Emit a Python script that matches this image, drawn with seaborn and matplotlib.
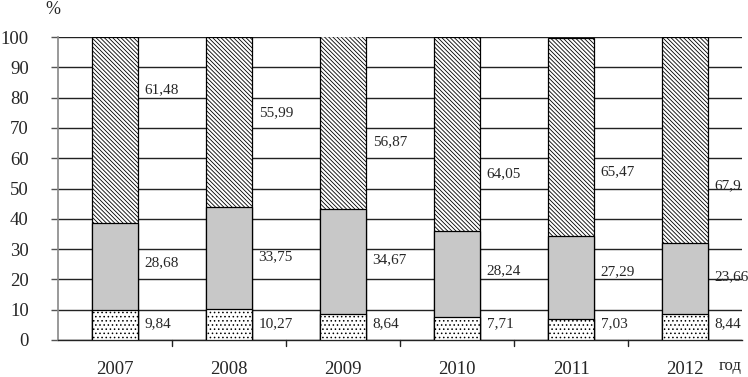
import matplotlib
matplotlib.use("Agg")
import matplotlib.pyplot as plt
import seaborn as sns
import pandas as pd
import numpy as np

years = ["2007", "2008", "2009", "2010", "2011", "2012"]
bottom_vals = [9.84, 10.27, 8.64, 7.71, 7.03, 8.44]
middle_vals = [28.68, 33.75, 34.67, 28.24, 27.29, 23.66]
top_vals = [61.48, 55.99, 56.87, 64.05, 65.47, 67.9]
bottom_labels = ["9,84", "10,27", "8,64", "7,71", "7,03", "8,44"]
middle_labels = ["28,68", "33,75", "34,67", "28,24", "27,29", "23,66"]
top_labels = ["61,48", "55,99", "56,87", "64,05", "65,47", "67,9"]
# vertical placement of value labels (in % units)
bottom_label_y = [5.5, 5.5, 5.5, 5.5, 5.5, 5.5]
middle_label_y = [25.5, 27.5, 26.5, 23.0, 22.5, 21.0]
top_label_y = [82.5, 75.0, 65.5, 55.0, 55.5, 51.0]
yticks = [0, 10, 20, 30, 40, 50, 60, 70, 80, 90, 100]

sns.set_theme(style="white")
plt.rcParams["font.family"] = ["Liberation Serif", "DejaVu Serif"]
plt.rcParams["hatch.linewidth"] = 0.6

df = pd.DataFrame({"year": years, "b": bottom_vals, "m": middle_vals, "t": top_vals})
df["bm"] = df["b"] + df["m"]
df["total"] = df["bm"] + df["t"]

fig = plt.figure(figsize=(7.48, 3.77), dpi=100)
ax = fig.add_axes([58 / 748, 37 / 377, 684 / 748, 303 / 377])

layers = [("total", "white", "\\\\\\\\\\\\\\\\"), ("bm", "#c8c8c8", None), ("b", "white", "....")]
for col, color, hatch in layers:
    sns.barplot(data=df, x="year", y=col, ax=ax, color=color, width=0.4,
                edgecolor="black", linewidth=0.9, saturation=1, zorder=3)
    for p in ax.patches[-len(years):]:
        p.set_facecolor(color)
        if hatch:
            p.set_hatch(hatch)

ax.set_xlim(-0.5, 5.5)
ax.set_ylim(0, 100)
ax.set_yticks(yticks)
ax.set_yticklabels([str(v) for v in yticks], fontsize=13.5)
ax.yaxis.grid(True, color="#222222", linewidth=1.0, zorder=0)
ax.set_axisbelow(True)
ax.set_xlabel("")
ax.set_ylabel("")

for s in ["top", "right"]:
    ax.spines[s].set_visible(False)
ax.spines["left"].set_color("#888888")
ax.spines["left"].set_linewidth(1.2)
ax.spines["bottom"].set_color("#222222")
ax.spines["bottom"].set_linewidth(1.0)

ax.tick_params(axis="y", which="both", left=True, length=5, width=1, color="#555555", pad=16)
ax.set_xticks(np.arange(len(years)))
ax.set_xticklabels(years, fontsize=13.5)
ax.tick_params(axis="x", bottom=False, pad=9)
for xb in np.arange(0.5, len(years) - 0.5, 1.0):
    ax.plot([xb, xb], [0, -2.0], color="#222222", lw=1, clip_on=False)

for i in range(len(years)):
    xl = i + 0.2 + 0.06
    ax.text(xl, bottom_label_y[i], bottom_labels[i], fontsize=11, va="center", ha="left", zorder=5)
    ax.text(xl, middle_label_y[i], middle_labels[i], fontsize=11, va="center", ha="left", zorder=5)
    ax.text(xl, top_label_y[i], top_labels[i], fontsize=11, va="center", ha="left", zorder=5)

fig.text(53 / 748, 1 - 9 / 377, "%", fontsize=13, ha="center", va="center")
fig.text(730 / 748, 1 - 366 / 377, "год", fontsize=12, ha="center", va="center")

fig.savefig("out.png", dpi=100)
